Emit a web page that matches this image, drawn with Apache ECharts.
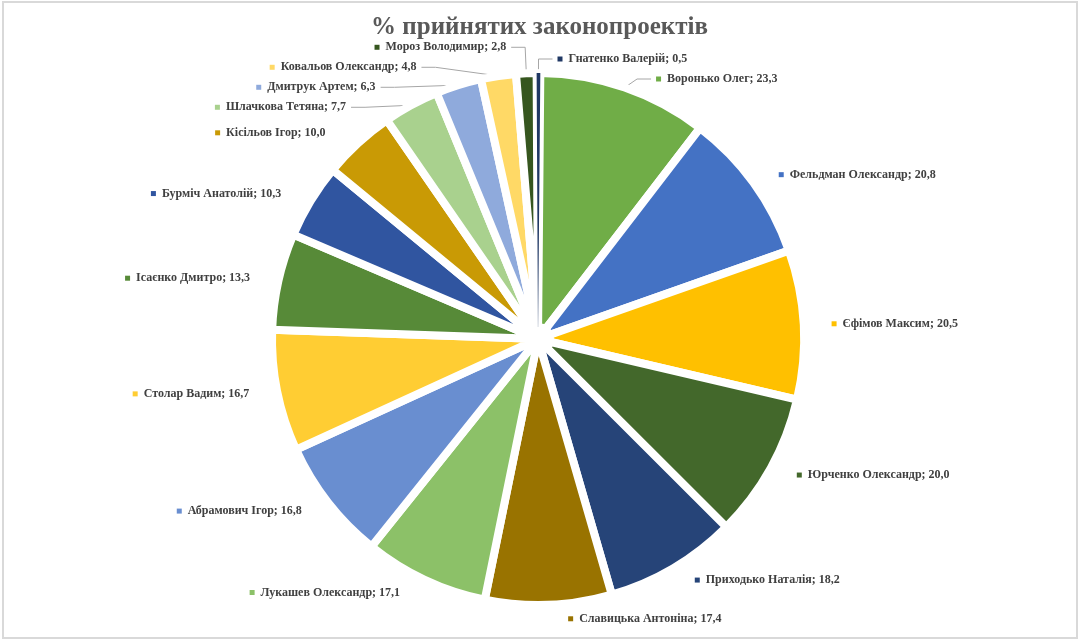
<!DOCTYPE html>
<html lang="uk">
<head>
  <meta charset="UTF-8">
  <title>% прийнятих законопроектів</title>
  <style>
    html, body { margin: 0; padding: 0; background: #fff; }
    #frame { position: absolute; left: 2px; top: 1px; width: 1072px; height: 634px; border: 2px solid #d9d9d9; }
    #main { position: absolute; left: 0; top: 0; width: 1079px; height: 643px; }
  </style>
</head>
<body>
<div id="frame"></div>
<div id="main"></div>
<script src="https://cdn.jsdelivr.net/npm/echarts@6/dist/echarts.min.js"></script>
<script type="text/javascript">
// депутати
var names = ['Воронько Олег', 'Фельдман Олександр', 'Єфімов Максим', 'Юрченко Олександр',
  'Приходько Наталія', 'Славицька Антоніна', 'Лукашев Олександр', 'Абрамович Ігор',
  'Столар Вадим', 'Ісаєнко Дмитро', 'Бурміч Анатолій', 'Кісільов Ігор',
  'Шлачкова Тетяна', 'Дмитрук Артем', 'Ковальов Олександр', 'Мороз Володимир', 'Гнатенко Валерій'];
// % прийнятих
var values = [23.3, 20.8, 20.5, 20.0, 18.2, 17.4, 17.1, 16.8, 16.7, 13.3, 10.3, 10.0, 7.7, 6.3, 4.8, 2.8, 0.5];
var colors = ['#70ad47', '#4472c4', '#ffc000', '#43682b', '#264478', '#997300', '#8cc168', '#698ed0',
  '#ffcd33', '#578a38', '#3055a0', '#c99a05', '#a9d18e', '#8faadc', '#ffd966', '#36561f', '#203864'];

var pieData = [];
for (var i = 0; i < names.length; i++) {
  var small = values[i] < 8;
  pieData.push({
    name: names[i],
    value: values[i],
    // дуже вузький сектор малюємо без білої рамки, щоб його було видно
    itemStyle: { color: colors[i], borderWidth: values[i] < 1 ? 0 : 8 },
    label: { rich: { m: { backgroundColor: colors[i], width: 5, height: 5 } } },
    labelLine: { show: (i == 0 || small), length: (small && values[i] >= 1) ? 26 : 14 }
  });
}

var myChart = echarts.init(document.getElementById('main'));
var option = {
  title: {
    text: '% прийнятих законопроектів',
    left: 'center',
    top: 10,
    textStyle: { fontFamily: 'Liberation Serif', fontWeight: 'bold', fontSize: 25, color: '#595959' }
  },
  series: [
    {
      type: 'pie',
      center: [538, 339],
      radius: [12, 266],
      startAngle: 89.5,
      clockwise: true,
      animation: false,
      avoidLabelOverlap: true,
      itemStyle: { borderColor: '#fff', borderWidth: 8 },
      label: {
        show: true,
        position: 'outside',
        fontFamily: 'Liberation Serif',
        fontWeight: 'bold',
        fontSize: 12,
        lineHeight: 18,
        color: '#404040',
        formatter: function (p) {
          return '{m|}  ' + p.name + '; ' + p.value.toFixed(1).replace('.', ',');
        }
      },
      labelLine: { length: 14, length2: 14, lineStyle: { color: '#a6a6a6', width: 1 } },
      data: pieData
    }
  ]
};
myChart.setOption(option);
</script>
</body>
</html>
